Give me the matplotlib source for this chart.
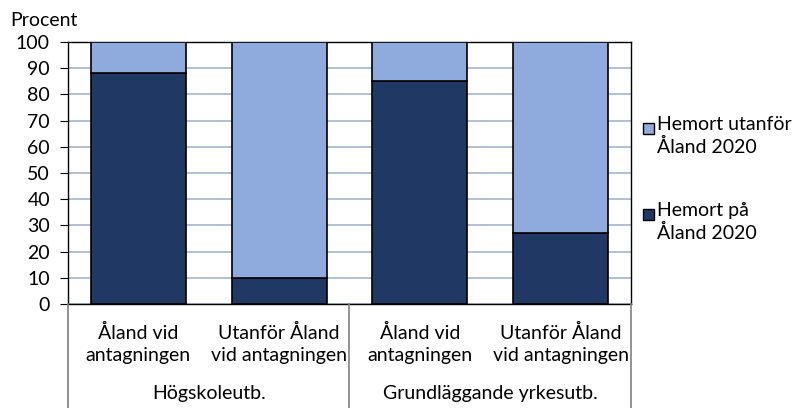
import numpy as np
import matplotlib.pyplot as plt
from matplotlib.patches import Rectangle
from matplotlib.lines import Line2D

plt.rcParams['font.family'] = ['Lato', 'DejaVu Sans']

categories = ["Åland vid\nantagningen", "Utanför Åland\nvid antagningen",
              "Åland vid\nantagningen", "Utanför Åland\nvid antagningen"]
groups = ["Högskoleutb.", "Grundläggande yrkesutb."]
pa_aland = [88, 10, 85, 27]
utanfor = [12, 90, 15, 73]
series_names = ["Hemort på\nÅland 2020", "Hemort utanför\nÅland 2020"]

dark = "#203864"
light = "#8faadc"
fs = 14

fig = plt.figure(figsize=(7.99, 4.08), dpi=100)
ax = fig.add_axes([68 / 799, 1 - 304 / 408, (631 - 68) / 799, (304 - 42) / 408])

x = np.arange(len(categories))
w = 0.675
ax.bar(x, pa_aland, w, color=dark, edgecolor="black", linewidth=1.2, zorder=3)
ax.bar(x, utanfor, w, bottom=pa_aland, color=light, edgecolor="black",
       linewidth=1.2, zorder=3)

ax.set_xlim(-0.5, len(categories) - 0.5)
ax.set_ylim(0, 100)
ax.set_yticks(np.arange(0, 101, 10))
ax.yaxis.grid(True, color="#a6b4cc", linewidth=1.2, zorder=0)
ax.tick_params(axis="y", labelsize=fs, length=6, direction="out", pad=7)
ax.set_xticks([])
for s in ax.spines.values():
    s.set_color("black")
    s.set_linewidth(1)

fig.text(10 / 799, 1 - 20 / 408, "Procent", fontsize=fs, va="center", ha="left")

# category labels
for i, lab in enumerate(categories):
    fx = (68 + (i + 0.5) * (631 - 68) / 4) / 799
    fig.text(fx, 1 - 344 / 408, lab, fontsize=fs, ha="center", va="center",
             linespacing=1.3)
for j, g in enumerate(groups):
    fx = (68 + (j + 0.5) * (631 - 68) / 2) / 799
    fig.text(fx, 1 - 394 / 408, g, fontsize=fs, ha="center", va="center")

for px in [68, 349, 631]:
    fig.add_artist(Line2D([px / 799, px / 799], [0, 1 - 304 / 408],
                          color="#808080", linewidth=1.2))

# legend
leg_items = [(light, series_names[1], 128), (dark, series_names[0], 214)]
for col, name, py in leg_items:
    fig.add_artist(Rectangle((643 / 799, 1 - (py + 6) / 408), 11 / 799, 11 / 408,
                             facecolor=col, edgecolor="black", linewidth=1))
    fig.text(657 / 799, 1 - (py - 12) / 408, name, fontsize=fs, ha="left",
             va="top", linespacing=1.3)

fig.savefig("out.png", dpi=100)
